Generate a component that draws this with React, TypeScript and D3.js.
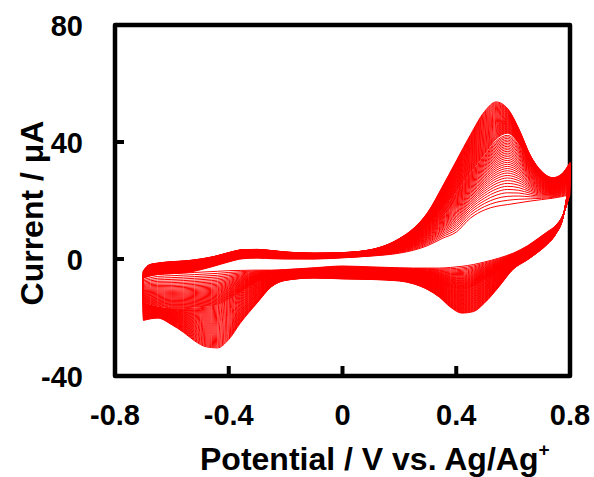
import React from "react";
import * as d3 from "d3";

// Potential grids (V vs. Ag/Ag+)
const forwardE = [-0.70, -0.68, -0.65, -0.60, -0.55, -0.50, -0.45, -0.40, -0.35, -0.30, -0.25, -0.20, -0.10, 0.00, 0.10, 0.20, 0.25, 0.30, 0.35, 0.40, 0.45, 0.50, 0.54, 0.58, 0.62, 0.66, 0.70, 0.74, 0.77, 0.80];
const reverseE = [0.79, 0.775, 0.75, 0.72, 0.69, 0.65, 0.60, 0.55, 0.50, 0.46, 0.42, 0.38, 0.34, 0.30, 0.25, 0.20, 0.10, 0.00, -0.10, -0.20, -0.25, -0.30, -0.36, -0.40, -0.44, -0.48, -0.52, -0.56, -0.60, -0.65, -0.70];

// Current (µA) of the first cycle (innermost loop)
const firstForward = [-6.5, -5.8, -5.3, -5.0, -4.7, -3.7, -2.4, -1.0, 0.1, 0.3, 0.1, 0.0, 0.0, 0.4, 1.0, 2.0, 3.0, 4.6, 7.0, 9.2, 14.0, 16.8, 18.0, 18.6, 19.2, 19.8, 20.3, 20.8, 21.3, 22.0];
const firstReverse = [19, 15, 11.5, 9.3, 7.2, 4.5, 2.0, 0.3, -1.0, -1.9, -2.5, -2.9, -3.1, -3.1, -3.1, -3.0, -2.7, -2.4, -3.0, -3.6, -3.8, -3.8, -3.9, -4.0, -4.2, -4.4, -4.6, -4.8, -5.0, -5.3, -6.5];

// Current of the cycle where the spread-out lines end and the dense band begins
const midForward = [-5.5, -3.8, -3.2, -2.6, -2.2, -1.4, -0.4, 1.0, 2.0, 2.2, 1.8, 1.5, 1.2, 1.5, 2.3, 5.0, 7.5, 11.5, 17.0, 23.0, 29.5, 36.0, 41.0, 43.0, 39.5, 32.5, 27.5, 25.5, 26.0, 28.5];
const midReverse = [20, 14.5, 10, 7, 4.8, 2.0, -0.8, -4.0, -7.0, -9.5, -10.8, -10.0, -8.2, -6.8, -5.8, -5.2, -4.8, -4.6, -4.8, -5.3, -6.2, -7.8, -11.5, -14.0, -16.0, -16.5, -16.8, -17.0, -17.0, -16.4, -15.0];

// Current of the last cycle (outermost loop)
const lastForward = [-4.0, -2.0, -1.4, -0.9, -0.6, 0.0, 0.9, 2.2, 3.2, 3.3, 2.9, 2.4, 2.0, 2.2, 3.2, 7.0, 10.5, 16.0, 24.5, 33.5, 42.5, 50.5, 53.7, 51.5, 44.5, 35.5, 30.0, 27.8, 29.0, 33.0];
const lastReverse = [22, 14, 8.5, 5, 2.5, -0.3, -3.5, -9.5, -15.0, -18.0, -18.5, -16.5, -13.0, -10.5, -8.5, -7.5, -7.0, -6.8, -6.5, -7.3, -9.5, -15.0, -22.0, -27.5, -30.4, -30.0, -28.0, -25.0, -22.5, -20.2, -21.0];

// Position of each recorded cycle between first (0), mid (1) and last (2)
const cycleProgress = [
  0, 0.06, 0.115, 0.165, 0.212, 0.256, 0.297, 0.336, 0.373, 0.408, 0.442, 0.474, 0.505, 0.535, 0.564, 0.592, 0.619, 0.646, 0.672,
  0.697, 0.722, 0.746, 0.77, 0.793, 0.816, 0.839, 0.861, 0.883, 0.905, 0.927, 0.949, 0.97, 1.0,
  1.025, 1.05, 1.075, 1.1, 1.125, 1.15, 1.175, 1.2, 1.225, 1.25, 1.275, 1.3, 1.325, 1.35, 1.375, 1.4, 1.425, 1.45, 1.475, 1.5,
  1.525, 1.55, 1.575, 1.6, 1.625, 1.65, 1.675, 1.7, 1.725, 1.75, 1.775, 1.8, 1.825, 1.85, 1.875, 1.9, 1.925, 1.95, 1.975, 2.0,
];

const xTicks = [-0.8, -0.4, 0, 0.4, 0.8];
const xTickLabels = ["-0.8", "-0.4", "0", "0.4", "0.8"];
const yTicks = [-40, 0, 40, 80];
const yTickLabels = ["-40", "0", "40", "80"];

const W = 594;
const H = 477;
const L = 115, R = 570, T = 25, B = 376;

export default function App() {
  const x = d3.scaleLinear().domain([-0.8, 0.8]).range([L, R]);
  const y = d3.scaleLinear().domain([-40, 80]).range([B, T]);
  const line = d3
    .line<[number, number]>()
    .x((d) => x(d[0]))
    .y((d) => y(d[1]))
    .curve(d3.curveMonotoneX);

  const blend = (a: number[], b: number[], t: number) => a.map((v, i) => v + t * (b[i] - v));

  const paths = cycleProgress.map((s) => {
    let fw: number[], rv: number[];
    if (s <= 1) {
      fw = blend(firstForward, midForward, s);
      rv = blend(firstReverse, midReverse, s);
    } else {
      fw = blend(midForward, lastForward, s - 1);
      rv = blend(midReverse, lastReverse, s - 1);
    }
    const fPts = forwardE.map((e, i) => [e, fw[i]] as [number, number]);
    const rPts = reverseE.map((e, i) => [e, rv[i]] as [number, number]);
    const fp = line(fPts) || "";
    const rp = (line(rPts) || "").replace(/^M/, "L");
    return fp + rp + "Z";
  });

  const font = "'Liberation Sans', Arial, Helvetica, sans-serif";

  return (
    <svg width={W} height={H} style={{ position: "absolute", left: 0, top: 0 }} xmlns="http://www.w3.org/2000/svg">
      <rect x={0} y={0} width={W} height={H} fill="#ffffff" />
      <rect x={L} y={T} width={R - L} height={B - T} fill="none" stroke="#000" strokeWidth={4.5} strokeLinejoin="round" />
      {yTicks.slice(1, 3).map((t) => (
        <line key={"yt" + t} x1={L} x2={L + 9} y1={y(t)} y2={y(t)} stroke="#000" strokeWidth={4} />
      ))}
      {xTicks.slice(1, 4).map((t) => (
        <line key={"xt" + t} x1={x(t)} x2={x(t)} y1={B} y2={B - 10} stroke="#000" strokeWidth={4} />
      ))}
      <g fill="none" stroke="#ff0000" strokeWidth={1}>
        {paths.map((p, i) => (
          <path key={i} d={p} />
        ))}
      </g>
      {yTicks.map((t, i) => (
        <text key={"yl" + t} x={83} y={y(t) + 10.5} textAnchor="end" fontFamily={font} fontWeight="bold" fontSize={29} fill="#000">
          {yTickLabels[i]}
        </text>
      ))}
      {xTicks.map((t, i) => (
        <text key={"xl" + t} x={x(t)} y={425} textAnchor="middle" fontFamily={font} fontWeight="bold" fontSize={29} fill="#000">
          {xTickLabels[i]}
        </text>
      ))}
      <text x={200} y={470} fontFamily={font} fontWeight="bold" fontSize={32} fill="#000">
        Potential / V vs. Ag/Ag<tspan fontSize={19} dy={-14}>+</tspan>
      </text>
      <text
        transform={`translate(43, 213) rotate(-90)`}
        textAnchor="middle"
        fontFamily={font}
        fontWeight="bold"
        fontSize={32}
        fill="#000"
      >
        Current / μA
      </text>
    </svg>
  );
}
